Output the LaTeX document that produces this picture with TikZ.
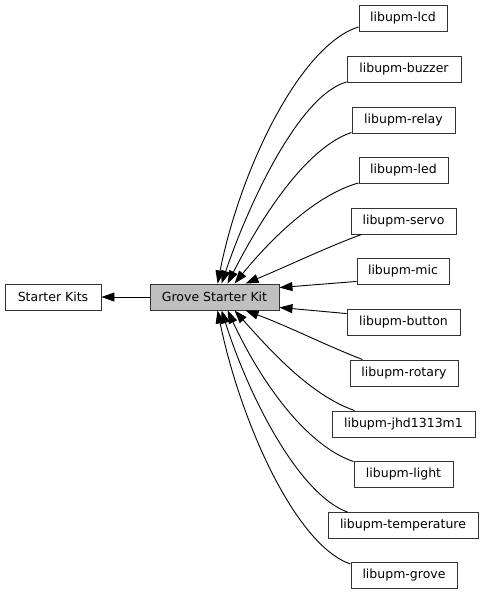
\documentclass[tikz,border=0pt]{standalone}
\usepackage{fontspec}
\setmainfont{DejaVu Sans}
\usetikzlibrary{arrows.meta}
\begin{document}
\begin{tikzpicture}[x=1pt,y=-1pt,
  box/.style={draw=black!80,line width=0.9pt,fill=white,inner sep=0pt,minimum height=26pt,font=\fontsize{12.5}{14}\selectfont},
  cur/.style={box,fill=black!25},
  edge/.style={line width=0.9pt,-{Triangle[length=13pt,width=9pt]}}]
\useasboundingbox (0,0) rectangle (485,595);
\node[box,minimum width=96pt] (sk) at (53,297) {Starter Kits};
\node[cur,minimum width=129pt] (gsk) at (214.5,297) {Grove Starter Kit};
\node[box,minimum width=88pt] (lcd) at (403,18.5) {libupm-lcd};
\node[box,minimum width=114pt] (buzzer) at (404,69.5) {libupm-buzzer};
\node[box,minimum width=103pt] (relay) at (403.5,120) {libupm-relay};
\node[box,minimum width=89pt] (led) at (403.5,170.5) {libupm-led};
\node[box,minimum width=105pt] (servo) at (403.5,221) {libupm-servo};
\node[box,minimum width=92pt] (mic) at (403,271) {libupm-mic};
\node[box,minimum width=113pt] (button) at (403.5,322) {libupm-button};
\node[box,minimum width=108pt] (rotary) at (404,373) {libupm-rotary};
\node[box,minimum width=143pt] (jhd) at (403.5,424) {libupm-jhd1313m1};
\node[box,minimum width=99pt] (light) at (403.5,474) {libupm-light};
\node[box,minimum width=150pt] (temp) at (403,525.5) {libupm-temperature};
\node[box,minimum width=106pt] (grove) at (404,575.5) {libupm-grove};
\draw[edge] (gsk.west) -- (sk.east);
\draw[edge] ([yshift=5pt]lcd.south west) .. controls (300,45) and (240,170) .. ([xshift=68pt]gsk.north west);
\draw[edge] ([yshift=1pt]buzzer.south west) .. controls (300,95) and (250,200) .. ([xshift=72pt]gsk.north west);
\draw[edge] ([yshift=1pt]relay.south west) .. controls (305,148) and (260,220) .. ([xshift=78pt]gsk.north west);
\draw[edge] ([yshift=1pt]led.south west) .. controls (315,195) and (270,240) .. ([xshift=85pt]gsk.north west);
\draw[edge] ([xshift=11pt]servo.south west) .. controls (325,248) and (290,265) .. ([xshift=96pt]gsk.north west);
\draw[edge] ([yshift=3pt]mic.south west) -- ([yshift=-4pt]gsk.north east);
\draw[edge] ([yshift=-5pt]button.north west) -- ([yshift=3pt]gsk.south east);
\draw[edge] ([xshift=13pt]rotary.north west) .. controls (325,345) and (290,327) .. ([xshift=96pt]gsk.south west);
\draw[edge] ([xshift=23pt]jhd.north west) .. controls (310,395) and (270,350) .. ([xshift=85pt]gsk.south west);
\draw[edge] ([yshift=-1pt]light.north west) .. controls (305,445) and (260,380) .. ([xshift=78pt]gsk.south west);
\draw[edge] ([xshift=20pt]temp.north west) .. controls (300,495) and (250,400) .. ([xshift=72pt]gsk.south west);
\draw[edge] ([yshift=-2pt]grove.north west) .. controls (295,545) and (240,420) .. ([xshift=68pt]gsk.south west);
\end{tikzpicture}
\end{document}
